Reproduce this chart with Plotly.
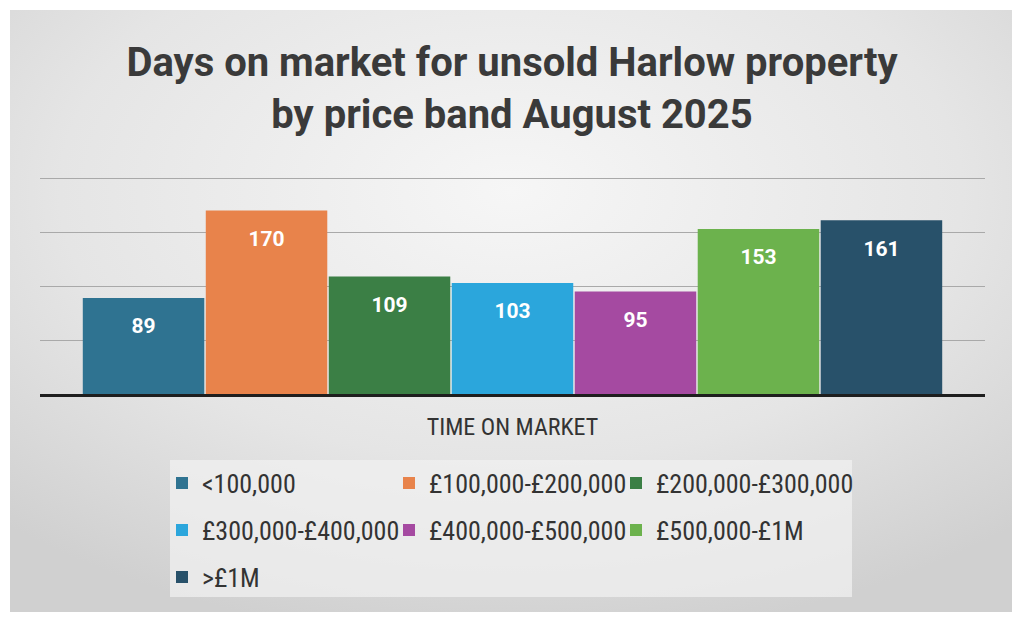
import plotly.graph_objects as go

# Datos
category = ["TIME ON MARKET"]
bands = ["<100,000", "£100,000-£200,000", "£200,000-£300,000",
         "£300,000-£400,000", "£400,000-£500,000", "£500,000-£1M", ">£1M"]
days = [89, 170, 109, 103, 95, 153, 161]
colors = ["#2f7391", "#e8834b", "#3b7f45", "#2ba6dc", "#a54aa1", "#6cb24d", "#28516a"]

title_text = "Days on market for unsold Harlow property<br>by price band August 2025"

# Fondo con degradado radial (imagen svg embebida)
bg_svg = (
    "data:image/svg+xml;utf8,"
    "<svg xmlns='http://www.w3.org/2000/svg' width='100' height='100' preserveAspectRatio='none'>"
    "<defs><radialGradient id='g' cx='50%' cy='30%' r='75%'>"
    "<stop offset='0' stop-color='%23f6f6f6'/><stop offset='0.6' stop-color='%23e5e5e5'/>"
    "<stop offset='1' stop-color='%23d0d0d0'/></radialGradient></defs>"
    "<rect width='100' height='100' fill='url(%23g)'/></svg>"
)

TXT = "#333333"
FONT = "Liberation Sans Narrow, Roboto Condensed, Roboto, sans-serif"

# geometría del área de trazado (px)
PLOT_L, PLOT_R, PLOT_T, PLOT_B = 40, 985, 175, 394


def py(px):
    return (PLOT_B - px) / (PLOT_B - PLOT_T)


def pxx(px):
    return (px - PLOT_L) / (PLOT_R - PLOT_L)


# leyenda: 3 columnas x 3 filas, una leyenda por entrada
col_x = [162, 389, 616]
row_y = [483, 530, 577]
legend_ids = ["legend" if i == 0 else f"legend{i + 1}" for i in range(len(bands))]

fig = go.Figure()
for band, d, c, lg in zip(bands, days, colors, legend_ids):
    fig.add_trace(go.Bar(
        x=category, y=[d], name=band,
        marker=dict(color=c, line=dict(width=0)),
        text=[d],
        texttemplate="<span style='font-size:5px'> </span><br>%{y}",
        textposition="inside", insidetextanchor="end",
        textfont=dict(family="Roboto", size=21, color="white", weight="bold"),
        legend=lg, showlegend=True, hoverinfo="skip",
    ))

legends = {}
for i, lg in enumerate(legend_ids):
    legends[lg] = dict(
        orientation="h", xanchor="left", yanchor="middle",
        x=pxx(col_x[i % 3]), y=py(row_y[i // 3]),
        bgcolor="rgba(0,0,0,0)", itemwidth=30,
        font=dict(family=FONT, size=26, color=TXT),
    )

fig.update_layout(
    width=1024, height=621,
    margin=dict(l=PLOT_L, r=1024 - PLOT_R, t=PLOT_T, b=621 - PLOT_B),
    paper_bgcolor="white", plot_bgcolor="rgba(0,0,0,0)",
    showlegend=True,
    barmode="group", bargap=0.089, bargroupgap=0.012,
    title=dict(text=title_text, x=0.5, xanchor="center", xref="container",
               y=1 - 76 / 621, yanchor="middle", yref="container",
               font=dict(family="Roboto", size=40, color="#3a3a3a", weight="bold")),
    xaxis=dict(showgrid=False, showline=True, linecolor="#1e1e1e", linewidth=3,
               ticks="", ticklabelstandoff=9,
               tickfont=dict(family=FONT, size=24, color=TXT)),
    yaxis=dict(range=[0, 203], tickvals=[50, 100, 150, 200], showticklabels=False,
               zeroline=False, showgrid=True, gridcolor="#a9a9a9", gridwidth=1),
    images=[dict(source=bg_svg, xref="paper", yref="paper",
                 x=pxx(10), y=py(10), sizex=pxx(1012) - pxx(10), sizey=py(10) - py(612),
                 xanchor="left", yanchor="top", sizing="stretch", layer="below")],
    shapes=[dict(type="rect", xref="paper", yref="paper",
                 x0=pxx(170), x1=pxx(852), y0=py(597), y1=py(460),
                 fillcolor="rgba(240,240,240,0.75)", line=dict(width=0), layer="below")],
    **legends,
)

fig.write_html("out.html", config={"displayModeBar": False},
               post_script="document.body.style.margin='0';")
